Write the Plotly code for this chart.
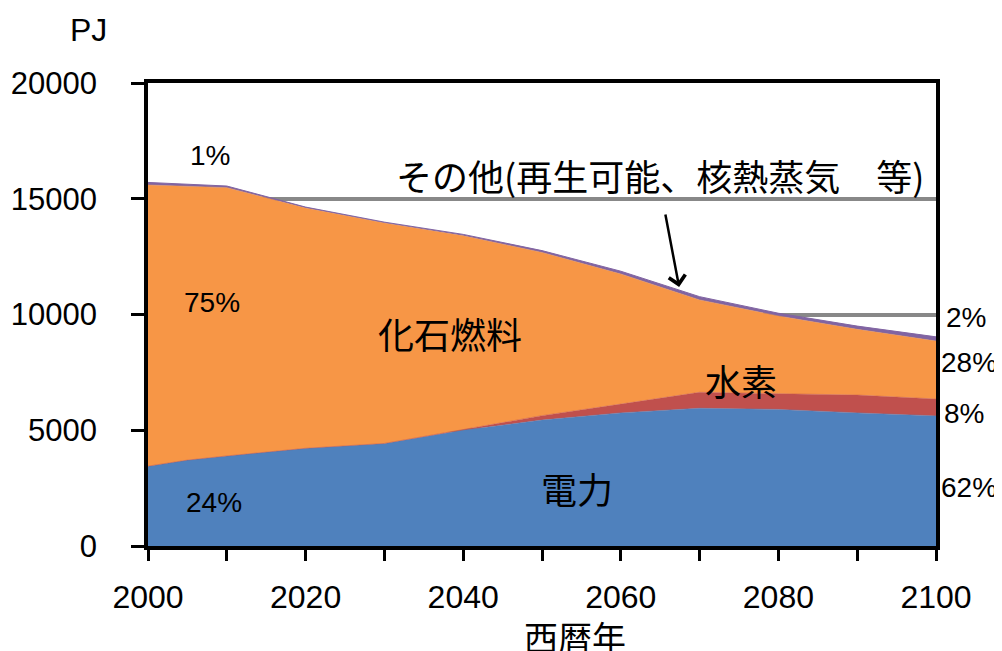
import plotly.graph_objects as go

years = [2000, 2005, 2010, 2020, 2030, 2040, 2050, 2060, 2070, 2080, 2090, 2100]
electricity = [3450, 3710, 3890, 4220, 4430, 5000, 5440, 5750, 5950, 5900, 5750, 5620]
hydrogen = [0, 0, 0, 0, 0, 40, 190, 380, 690, 680, 770, 730]
fossil = [12145, 11830, 11590, 10380, 9520, 8360, 7050, 5620, 3990, 3355, 2840, 2505]
other = [110, 90, 70, 40, 40, 60, 80, 120, 140, 120, 140, 180]

series = [
    ("電力", electricity, "#4F81BD"),
    ("水素", hydrogen, "#C0504D"),
    ("化石燃料", fossil, "#F79646"),
    ("その他", other, "#8064A2"),
]

fig = go.Figure()
for name, vals, col in series:
    fig.add_trace(go.Scatter(
        x=years, y=vals, name=name, stackgroup="one", mode="lines",
        line=dict(width=1 if name == "その他" else 0.5, color=col),
        fillcolor=col, hoverinfo="x+y+name",
    ))

NUM = "Liberation Sans, Arial, sans-serif"
JP = "Noto Sans CJK JP, sans-serif"

# page body has an 8px default margin, so the figure is offset by 8px
fig.update_layout(
    width=1002, height=651,
    margin=dict(l=140, r=74, t=75, b=113),
    paper_bgcolor="white", plot_bgcolor="white",
    showlegend=False,
    font=dict(family=NUM, color="black"),
)
fig.update_xaxes(
    range=[2000, 2100], tickvals=[2000, 2020, 2040, 2060, 2080, 2100],
    showgrid=False, zeroline=False, automargin=False,
    showline=True, linecolor="black", linewidth=3.5, mirror=True,
    ticks="outside", ticklen=11, tickwidth=3, tickcolor="black",
    minor=dict(dtick=10, tick0=2000, ticks="outside", ticklen=11, tickwidth=3, tickcolor="black"),
    tickfont=dict(size=32, family=NUM), ticklabelstandoff=9,
)
fig.update_yaxes(
    range=[0, 20000], dtick=5000, tickformat="d",
    showgrid=True, gridcolor="#888888", gridwidth=3.5, zeroline=False, automargin=False,
    showline=True, linecolor="black", linewidth=3.5, mirror=True,
    ticks="outside", ticklen=13, tickwidth=3, tickcolor="black",
    tickfont=dict(size=31, family=NUM), ticklabelstandoff=28,
)

def ann(text, x, y, size, xref="x", yref="y", family=NUM):
    fig.add_annotation(text=text, x=x, y=y, xref=xref, yref=yref, showarrow=False,
                       font=dict(size=size, family=family, color="black"),
                       xanchor="center", yanchor="middle")

ann("1%", 2007.9, 16890, 28)
ann("75%", 2008.1, 10500, 28)
ann("24%", 2008.4, 1860, 28)
ann("化石燃料", 2038.3, 9200, 36, family=JP)
ann("水素", 2075.3, 7170, 36, family=JP)
ann("電力", 2054.4, 2500, 36, family=JP)
ann("その他(再生可能、核熱蒸気\u3000等)", 2065.0, 16030, 36, family=JP)
ann("2%", 1.038, 0.4946, 28, "paper", "paper")
ann("28%", 1.042, 0.397, 28, "paper", "paper")
ann("8%", 1.0355, 0.287, 28, "paper", "paper")
ann("62%", 1.042, 0.127, 28, "paper", "paper")
ann("PJ", -0.076, 1.1145, 32, "paper", "paper")
ann("西暦年", 0.542, -0.195, 34, "paper", "paper", family=JP)

fig.add_annotation(x=2067.4, y=11190, xref="x", yref="y", text="", showarrow=True,
                   ax=-14, ay=-74, arrowhead=4, arrowsize=1.3, arrowwidth=2.5,
                   arrowcolor="black")

fig.write_html("out.html")
